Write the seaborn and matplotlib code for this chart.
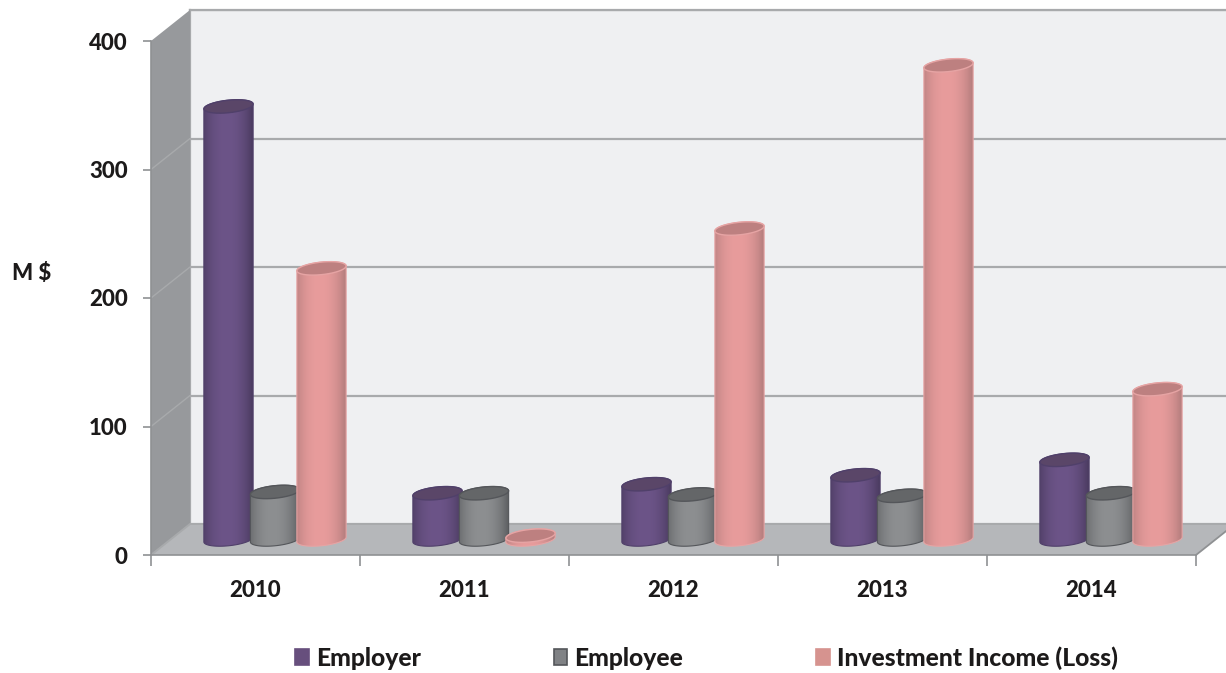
import numpy as np
import pandas as pd
import matplotlib
matplotlib.use("Agg")
import matplotlib.pyplot as plt
from matplotlib.patches import Patch, PathPatch, Polygon
from matplotlib.path import Path
from matplotlib.colors import to_rgb
import seaborn as sns

years = ["2010", "2011", "2012", "2013", "2014"]
employer = [337, 36, 43, 50, 62]
employee = [37, 36, 35, 34, 36]
investment = [211, 3, 242, 369, 117]
series_names = ["Employer", "Employee", "Investment Income (Loss)"]

y_ticks = [0, 100, 200, 300, 400]
y_label = "M $"

W, H = 1226, 673
INK = "#1c1a1a"
GRID = "#a8aaac"
TICK = "#8f9193"
BACK = "#eff0f2"
FLOOR = "#b5b7ba"
SIDE = "#97999c"
LABEL_WEIGHT = 900

# side shade, lit centre, cap fill, outline, legend swatch
STYLES = {
    "Employer": ("#433557", "#6c5488", "#5a4668", "#50406a", "#674f7d"),
    "Employee": ("#55575a", "#8d8f91", "#646668", "#54565a", "#808285"),
    "Investment Income (Loss)": ("#a87676", "#e89c9c", "#bd8080", "#e6a4a4", "#d6938f"),
}

sns.set_theme(style="white")
plt.rcParams["font.family"] = ["Lato", "DejaVu Sans"]
plt.rcParams["font.weight"] = LABEL_WEIGHT

fig = plt.figure(figsize=(W / 100, H / 100), dpi=100, facecolor="white")


def axes_from_pixels(left, right, top, bottom, **kw):
    return fig.add_axes([left / W, 1 - bottom / H, (right - left) / W, (bottom - top) / H], **kw)


# Back wall of the box, running past the right edge of the canvas
ax_back = axes_from_pixels(190, 1235, 10, 524, zorder=0, facecolor=BACK)
ax_back.set_xlim(-0.5, 4.5)
ax_back.set_ylim(0, 400)
ax_back.set_xticks([])
ax_back.set_yticks(y_ticks)
ax_back.tick_params(left=False, labelleft=False)
ax_back.grid(axis="y", color=GRID, lw=1.6)
for name, spine in ax_back.spines.items():
    spine.set_visible(name in ("top", "left"))
    spine.set_color(GRID)
    spine.set_linewidth(1.6)

# Front plane carries the axes, ticks and labels
ax_front = axes_from_pixels(151, 1196, 41, 555, zorder=1)
ax_front.patch.set_alpha(0)
ax_front.set_xlim(-0.5, 4.5)
ax_front.set_ylim(0, 400)
ax_front.set_yticks(y_ticks)
ax_front.set_yticklabels([str(v) for v in y_ticks], fontsize=16, color=INK, fontweight=LABEL_WEIGHT)
ax_front.tick_params(axis="y", length=5.8, width=1.2, color=TICK, pad=11, left=True)
ax_front.set_xticks(np.arange(-0.5, 5, 1))
ax_front.set_xticklabels([])
ax_front.set_xticks(np.arange(5), labels=years, minor=True)
ax_front.tick_params(axis="x", which="major", length=8, width=1.2, color=TICK, bottom=True)
ax_front.tick_params(axis="x", which="minor", length=0, pad=17.7, labelsize=16, labelcolor=INK)
for lab in ax_front.get_xticklabels(minor=True):
    lab.set_fontweight(LABEL_WEIGHT)
for name, spine in ax_front.spines.items():
    spine.set_visible(name in ("left", "bottom"))
    spine.set_color(TICK)
    spine.set_linewidth(1.2)
ax_front.set_ylabel(y_label, rotation=0, fontsize=16, color=INK, fontweight=LABEL_WEIGHT, labelpad=0)
ax_front.yaxis.set_label_coords(-0.114, 0.527)

# Depth of the box, in axes fractions of the front plane
dx = 39 / 1045
dy = 31 / 514
tr = ax_front.transAxes
ax_front.add_patch(Polygon([(0, 0), (dx, dy), (dx, 1 + dy), (0, 1)], closed=True, transform=tr,
                           fc=SIDE, ec="none", zorder=0.5, clip_on=False))
ax_front.add_patch(Polygon([(0, 0), (dx, dy), (1 + dx, dy), (1, 0)], closed=True, transform=tr,
                           fc=FLOOR, ec="none", zorder=0.5, clip_on=False))
for frac in np.array(y_ticks[1:-1]) / 400:
    ax_front.plot([0, dx], [frac, frac + dy], transform=tr, color=GRID, lw=1.0, zorder=0.6, clip_on=False)
ax_front.plot([0, dx, 1 + dx], [0, dy, dy], transform=tr, color=GRID, lw=1.4, zorder=0.6, clip_on=False)
ax_front.plot([1, 1 + dx], [0, dy], transform=tr, color=TICK, lw=1.3, zorder=0.6, clip_on=False)

# Bars stand half way into the box
frame = pd.DataFrame({
    "year": years * 3,
    "series": np.repeat(series_names, len(years)),
    "value": employer + employee + investment,
})
ax_bars = fig.add_axes([0, 0, 1, 1], zorder=2)
ax_bars.patch.set_alpha(0)
sns.barplot(data=frame, x="year", y="value", hue="series", hue_order=series_names,
            order=years, width=0.6675, gap=-0.065, ax=ax_bars, legend=False,
            errorbar=None, palette=[STYLES[s][4] for s in series_names])

PX_X = 209.0
PX_Y = 514 / 400
x_low = -275 / PX_X
y_low = -(H - 539.5) / PX_Y
ax_bars.set_xlim(x_low, x_low + W / PX_X)
ax_bars.set_ylim(y_low, y_low + H / PX_Y)
ax_bars.set_axis_off()

CAP_H = 12.5
TILT = np.radians(6)


def ellipse_points(cx, cy, half_w, start, stop, n=40):
    """Points of a tilted cap outline, in data units."""
    t = np.linspace(start, stop, n)
    a, b = half_w * PX_X, CAP_H / 2
    px = a * np.cos(t) * np.cos(TILT) - b * np.sin(t) * np.sin(TILT)
    py = a * np.cos(t) * np.sin(TILT) + b * np.sin(t) * np.cos(TILT)
    return np.column_stack([cx + px / PX_X, cy + py / PX_Y])


for k, (name, container) in enumerate(zip(series_names, ax_bars.containers)):
    side, lit, cap, rim, _ = STYLES[name]
    side_c, lit_c = np.array(to_rgb(side)), np.array(to_rgb(lit))
    shade = np.linspace(-1, 1, 64)
    weight = np.clip(1 - np.abs(shade + 0.08) ** 2.2, 0, 1)[:, None]
    ramp = (side_c * (1 - weight) + lit_c * weight)[None, :, :]
    for bar in container:
        bar.set_facecolor("none")
        bar.set_edgecolor("none")
        x0, w, v = bar.get_x(), bar.get_width(), bar.get_height()
        cx, hw = x0 + w / 2, w / 2
        lower = ellipse_points(cx, 0, hw, np.pi, 2 * np.pi)
        upper = ellipse_points(cx, v, hw, 0, np.pi)
        verts = np.vstack([lower, upper, lower[:1]])
        codes = [Path.MOVETO] + [Path.LINETO] * (len(verts) - 2) + [Path.CLOSEPOLY]
        base_z = 3 + 3 * k
        outline = PathPatch(Path(verts, codes), fc="none", ec=rim, lw=0.8, zorder=base_z + 0.5)
        ax_bars.add_patch(outline)
        im = ax_bars.imshow(ramp, extent=(x0 - 0.02, x0 + w + 0.02, -10, v + 10),
                            aspect="auto", interpolation="bilinear", zorder=base_z)
        im.set_clip_path(outline)
        ax_bars.add_patch(Polygon(ellipse_points(cx, v, hw, 0, 2 * np.pi), closed=True,
                                  fc=cap, ec=rim, lw=1.0, zorder=base_z + 1))

ax_bars.set_xlim(x_low, x_low + W / PX_X)
ax_bars.set_ylim(y_low, y_low + H / PX_Y)

# Legend along the bottom edge
handles = [Patch(fc=STYLES[s][4], ec=STYLES[s][3] if s == "Employee" else STYLES[s][4], lw=1.2, label=s)
           for s in series_names]
fig.legend(handles=handles, ncol=3, loc="center", bbox_to_anchor=(706.5 / W, 1 - 658 / H),
           frameon=False, labelcolor=INK, handlelength=0.55, handleheight=0.6,
           handletextpad=0.3, columnspacing=5.4, borderpad=0,
           prop={"weight": LABEL_WEIGHT, "size": 17.7})

fig.savefig("out.png", dpi=100, facecolor="white")
